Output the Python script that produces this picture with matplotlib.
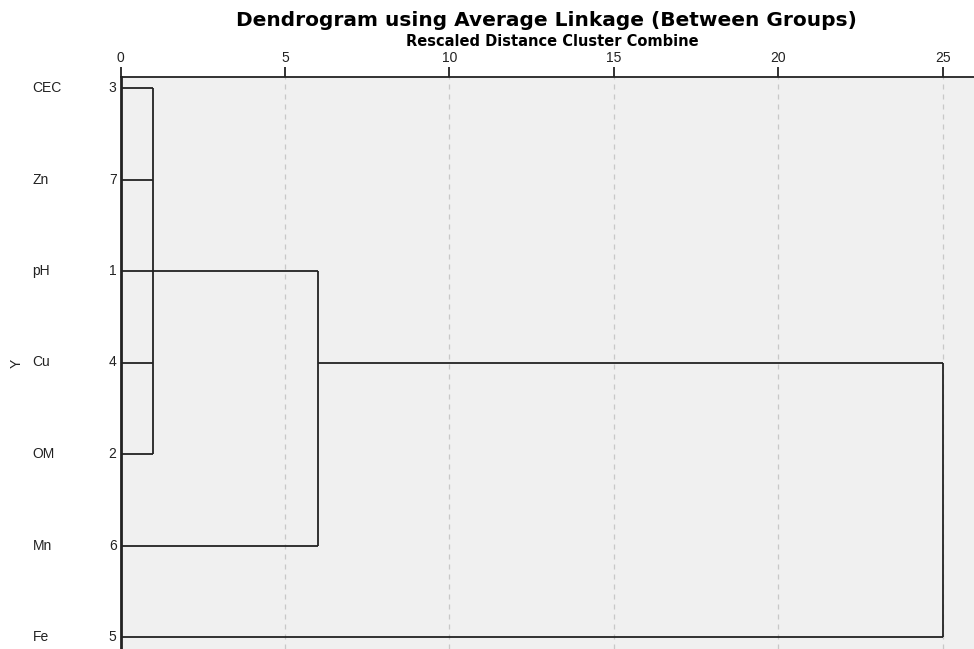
import matplotlib
matplotlib.use('Agg')
import matplotlib.pyplot as plt

# ── Data ────────────────────────────────────────────────────────────────
labels = ['CEC', 'Zn', 'pH', 'Cu', 'OM', 'Mn', 'Fe']
case_ids = [3, 7, 1, 4, 2, 6, 5]
leaf_end = [1, 1, 1, 1, 1, 6, 25]          # where each leaf joins
merge_height = [1, 6, 25]                  # rescaled distance of each merge
merge_span = [(0, 4), (2, 5), (3, 6)]      # rows joined by the vertical line
merge_out_row = [2, 3, None]               # row where the merged cluster leaves
x_ticks = [0, 5, 10, 15, 20, 25]

plt.rcParams['font.family'] = ['Liberation Sans', 'DejaVu Sans']

fig = plt.figure(figsize=(9.74, 6.49), dpi=100)
ax = fig.add_axes([120.5 / 974, 0, 1 - 120.5 / 974, 1 - 77 / 649])
ax.set_facecolor('#f0f0f0')

line_kw = dict(color='#222222', lw=1.3, solid_capstyle='butt', zorder=3)

# leaves
for i, end in enumerate(leaf_end):
    ax.plot([0, end], [i, i], **line_kw)

# merges
for k, h in enumerate(merge_height):
    top, bot = merge_span[k]
    ax.plot([h, h], [top, bot], **line_kw)
    out = merge_out_row[k]
    if out is not None:
        ax.plot([h, merge_height[k + 1]], [out, out], **line_kw)

unit = 32.9
ax.set_xlim(0, (974 - 120.5) / unit)
ax.set_ylim(6 + (649 - 637) / 91.5, -11 / 91.5)

# top axis
ax.xaxis.tick_top()
ax.set_xticks(x_ticks)
ax.tick_params(axis='x', direction='out', length=7, width=1.3, color='#222222',
               labelsize=10, pad=2, labelcolor='#222222')
for x in x_ticks[1:]:
    ax.axvline(x, color='#c8c8c8', lw=0.9, ls=(0, (4, 4)), zorder=1)

ax.set_yticks([])
for s in ['right', 'bottom']:
    ax.spines[s].set_visible(False)
ax.spines['top'].set_linewidth(1.3)
ax.spines['top'].set_color('#222222')
ax.spines['left'].set_linewidth(2)
ax.spines['left'].set_color('#222222')

# leaf labels and case numbers
for i, (name, cid) in enumerate(zip(labels, case_ids)):
    ax.annotate(name, xy=(0, i), xycoords='data', xytext=(-88, 0),
                textcoords='offset pixels', ha='left', va='center',
                fontsize=10, color='#222222')
    ax.annotate(str(cid), xy=(0, i), xycoords='data', xytext=(-4, 0),
                textcoords='offset pixels', ha='right', va='center',
                fontsize=10, color='#222222')

fig.text(17 / 974, 1 - 363 / 649, 'Y', rotation=90, ha='center', va='center',
         fontsize=10, color='#222222')

fig.text(546 / 974, 1 - 20 / 649,
         'Dendrogram using Average Linkage (Between Groups)',
         ha='center', va='center', fontsize=14.5, fontweight='bold',
         family='DejaVu Sans')
fig.text(552 / 974, 1 - 42 / 649, 'Rescaled Distance Cluster Combine',
         ha='center', va='center', fontsize=10.5, fontweight='bold',
         family='DejaVu Sans')

fig.savefig('out.png', dpi=100, facecolor='white')
